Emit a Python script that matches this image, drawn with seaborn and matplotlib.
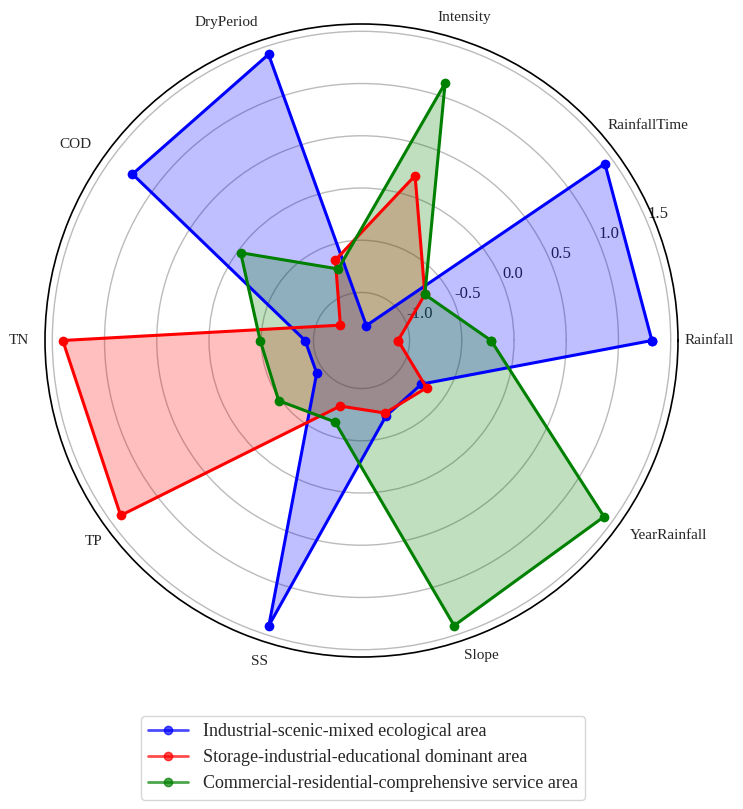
import numpy as np
import pandas as pd
import matplotlib
matplotlib.use("Agg")
import matplotlib.pyplot as plt
import seaborn as sns

# categories around the radar, counter-clockwise from the right
categories = ["Rainfall", "RainfallTime", "Intensity", "DryPeriod", "COD",
              "TN", "TP", "SS", "Slope", "YearRainfall"]

# values
industrial_scenic = [1.32, 1.42, -1.31, 1.42, 1.25, -0.92, -0.93, 1.41, -0.70, -0.75]
storage_industrial = [-1.11, -0.71, 0.20, -0.65, -1.21, 1.40, 1.39, -0.80, -0.73, -0.69]
commercial_residential = [-0.22, -0.71, 1.13, -0.74, -0.03, -0.49, -0.48, -0.64, 1.41, 1.41]

area_names = ["Industrial-scenic-mixed ecological area",
              "Storage-industrial-educational dominant area",
              "Commercial-residential-comprehensive service area"]
area_colors = ["blue", "red", "green"]

# how each category label sits outside the circle
label_ha = ["left", "center", "center", "right", "right",
            "right", "center", "center", "left", "left"]
label_va = ["center", "bottom", "bottom", "center", "center",
            "center", "top", "top", "center", "center"]
label_pad = [7, 38, 16, 18, 17, 16, 15, 14, 15, 15]

sns.set_style("white")
plt.rcParams["font.family"] = ["Liberation Serif", "DejaVu Serif"]

n = len(categories)
angles = np.linspace(0, 2 * np.pi, n, endpoint=False)
angles_closed = np.append(angles, 2 * np.pi)

# long form table, one closed loop per area
rows = []
for name, vals in zip(area_names, [industrial_scenic, storage_industrial, commercial_residential]):
    vals_closed = list(vals) + [vals[0]]
    for a, v in zip(angles_closed, vals_closed):
        rows.append({"angle": a, "value": v, "area": name})
df = pd.DataFrame(rows)

fig = plt.figure(figsize=(7.43, 8.09), dpi=100)
ax = fig.add_axes([45 / 743, 1 - 657 / 809, 633 / 743, 633 / 809], projection="polar")

sns.lineplot(data=df, x="angle", y="value", hue="area", hue_order=area_names,
             palette=area_colors, sort=False, estimator=None, marker="o",
             markersize=7, markeredgewidth=0, linewidth=2.2, legend=False, ax=ax)

for name, color in zip(area_names, area_colors):
    sub = df[df["area"] == name]
    ax.fill(sub["angle"], sub["value"], color=color, alpha=0.25)

vmin = df["value"].min()
vmax = df["value"].max()
ax.set_ylim(vmin - 0.15, vmax + 0.15)
ax.set_yticks([-1.0, -0.5, 0.0, 0.5, 1.0, 1.5])
ax.set_yticklabels(["-1.0", "-0.5", "0.0", "0.5", "1.0", "1.5"], fontsize=12)
ax.set_rlabel_position(22.5)
ax.set_xticks(angles)
ax.set_xticklabels([])
ax.set_xlabel("")
ax.set_ylabel("")
ax.xaxis.grid(False)
ax.yaxis.grid(True, color="#bbbbbb", linewidth=1)
ax.spines["polar"].set_color("black")
ax.spines["polar"].set_linewidth(1.2)

# category labels just outside the outer ring
rtop = ax.get_ylim()[1]
for a, lab, ha, va, pad in zip(angles, categories, label_ha, label_va, label_pad):
    ax.annotate(lab, xy=(a, rtop), xytext=(pad * np.cos(a), pad * np.sin(a)),
                textcoords="offset pixels", ha=ha, va=va, fontsize=11,
                annotation_clip=False)

handles = [plt.Line2D([], [], color=c, marker="o", linewidth=2, markersize=6, alpha=0.7)
           for c in area_colors]
fig.legend(handles, area_names, loc="upper center",
           bbox_to_anchor=(363 / 743, 1 - 707 / 809), fontsize=13,
           handlelength=2.2, frameon=True, edgecolor="#cccccc")

fig.savefig("out.png", dpi=100)
